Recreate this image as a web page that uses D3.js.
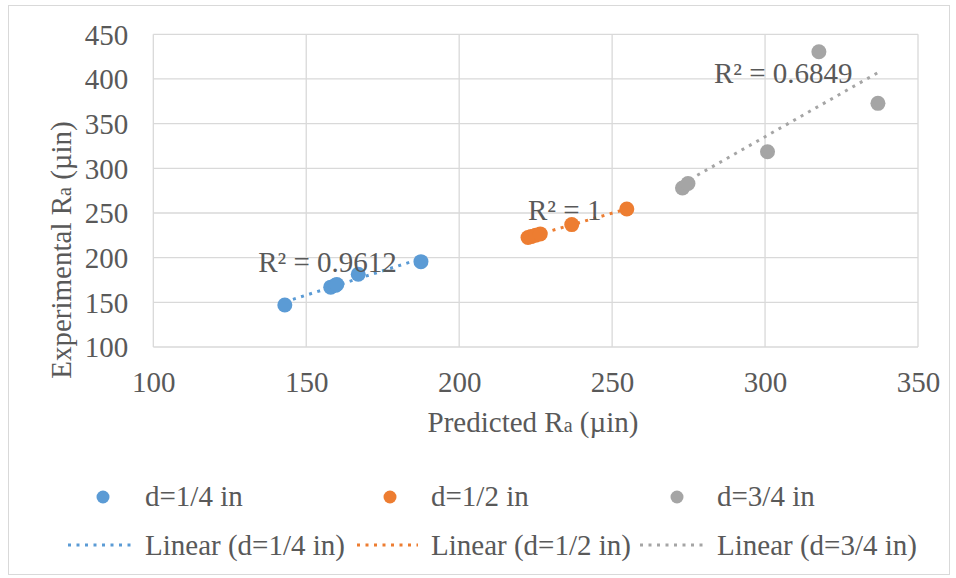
<!DOCTYPE html>
<html>
<head>
<meta charset="utf-8">
<script src="https://cdn.jsdelivr.net/npm/d3@7"></script>
<style>
  html, body { margin: 0; padding: 0; background: #ffffff; }
</style>
</head>
<body>
<svg id="chart" width="956" height="578"></svg>
<script>
// ---- data ----
const seriesNames = ["d=1/4 in", "d=1/2 in", "d=3/4 in"];
const trendNames = ["Linear (d=1/4 in)", "Linear (d=1/2 in)", "Linear (d=3/4 in)"];
const xQuarter = [143, 158, 159.5, 160, 167, 187.5];
const yQuarter = [147, 167, 169, 170, 181.5, 195.5];
const xHalf = [222.5, 223.5, 225, 226.5, 236.8, 254.8];
const yHalf = [222.6, 223.6, 225.1, 226.6, 237, 254.5];
const xThreeQuarter = [273, 274.8, 300.8, 317.6, 336.9];
const yThreeQuarter = [278, 283, 318.6, 430.5, 372.7];
const r2Labels = ["R² = 0.9612", "R² = 1", "R² = 0.6849"];
const xTicks = [100, 150, 200, 250, 300, 350];
const yTicks = [100, 150, 200, 250, 300, 350, 400, 450];

// ---- styles ----
const FONT = "Liberation Serif";
const TXT = "#595959";
const FS = 29;
const colors = ["#5B9BD5", "#ED7D31", "#A5A5A5"];
const svg = d3.select("#chart").attr("font-family", FONT);
const plot = { left: 153.3, right: 918, top: 34.3, bottom: 347 };

function txt(sel) {
  return sel.attr("font-family", FONT).attr("fill", TXT).attr("font-size", FS);
}

// outer border
svg.append("rect").attr("x", 8.5).attr("y", 5.5).attr("width", 941).attr("height", 569)
  .attr("fill", "#fff").attr("stroke", "#D9D9D9").attr("stroke-width", 1);

const x = d3.scaleLinear().domain([100, 350]).range([plot.left, plot.right]);
const y = d3.scaleLinear().domain([100, 450]).range([plot.bottom, plot.top]);

// gridlines
const grid = svg.append("g");
grid.selectAll("line.v").data(xTicks).enter().append("line")
  .attr("x1", d => x(d)).attr("x2", d => x(d))
  .attr("y1", plot.top).attr("y2", plot.bottom)
  .attr("stroke", "#D9D9D9").attr("stroke-width", 1.3);
grid.selectAll("line.h").data(yTicks).enter().append("line")
  .attr("x1", plot.left).attr("x2", plot.right)
  .attr("y1", d => y(d)).attr("y2", d => y(d))
  .attr("stroke", "#D9D9D9").attr("stroke-width", 1.3);

// axes (labels only)
const xAxis = d3.axisBottom(x).tickValues(xTicks).tickSize(0).tickPadding(0);
const gx = svg.append("g").attr("transform", `translate(0,${plot.bottom})`).call(xAxis)
  .attr("font-family", FONT).attr("font-size", FS);
gx.select(".domain").remove();
txt(gx.selectAll("text")).attr("y", 45).attr("dy", null);

const yAxis = d3.axisLeft(y).tickValues(yTicks).tickSize(0).tickPadding(0);
const gy = svg.append("g").attr("transform", `translate(${plot.left},0)`).call(yAxis)
  .attr("font-family", FONT).attr("font-size", FS);
gy.select(".domain").remove();
txt(gy.selectAll("text")).attr("x", -25).attr("dy", "0.34em");

// axis titles
const xt = txt(svg.append("text")).attr("x", 533).attr("y", 432).attr("text-anchor", "middle");
xt.append("tspan").text("Predicted R");
xt.append("tspan").text("a").attr("font-size", 20);
xt.append("tspan").text(" (µin)");

const yt = txt(svg.append("text")).attr("transform", "translate(71,250) rotate(-90)")
  .attr("text-anchor", "middle");
yt.append("tspan").text("Experimental R");
yt.append("tspan").text("a").attr("font-size", 20);
yt.append("tspan").text(" (µin)");

// series
const xs = [xQuarter, xHalf, xThreeQuarter];
const ys = [yQuarter, yHalf, yThreeQuarter];

function fit(xv, yv) {
  const n = xv.length;
  const mx = d3.mean(xv), my = d3.mean(yv);
  let sxy = 0, sxx = 0;
  for (let i = 0; i < n; i++) { sxy += (xv[i] - mx) * (yv[i] - my); sxx += (xv[i] - mx) ** 2; }
  const b = sxy / sxx, a = my - b * mx;
  return v => a + b * v;
}

// trendlines
xs.forEach((xv, i) => {
  const f = fit(xv, ys[i]);
  const x0 = d3.min(xv), x1 = d3.max(xv);
  svg.append("line")
    .attr("x1", x(x0)).attr("y1", y(f(x0)))
    .attr("x2", x(x1)).attr("y2", y(f(x1)))
    .attr("stroke", colors[i]).attr("stroke-width", 3)
    .attr("stroke-dasharray", "3 5.5");
});

// points
xs.forEach((xv, i) => {
  svg.append("g").selectAll("circle").data(xv.map((v, j) => [v, ys[i][j]])).enter()
    .append("circle")
    .attr("cx", d => x(d[0])).attr("cy", d => y(d[1])).attr("r", 7.5)
    .attr("fill", colors[i]);
});

// R² labels (anchored in data space)
const r2Anchor = [[134.3, 184], [222.5, 242.5], [283.3, 396]];
r2Labels.forEach((t, i) => {
  txt(svg.append("text")).attr("x", x(r2Anchor[i][0])).attr("y", y(r2Anchor[i][1])).text(t);
});

// legend
const legMarkX = [103, 390, 677];
const legTextX = [145, 431, 717];
const legLineX = [[68, 133], [357, 418], [640, 704]];
seriesNames.forEach((name, i) => {
  svg.append("circle").attr("cx", legMarkX[i]).attr("cy", 497).attr("r", 6.5).attr("fill", colors[i]);
  txt(svg.append("text")).attr("x", legTextX[i]).attr("y", 506).text(name);
});
trendNames.forEach((name, i) => {
  svg.append("line").attr("x1", legLineX[i][0]).attr("x2", legLineX[i][1])
    .attr("y1", 545).attr("y2", 545)
    .attr("stroke", colors[i]).attr("stroke-width", 3).attr("stroke-dasharray", "3 5.5");
  txt(svg.append("text")).attr("x", legTextX[i]).attr("y", 555).text(name);
});
</script>
</body>
</html>
